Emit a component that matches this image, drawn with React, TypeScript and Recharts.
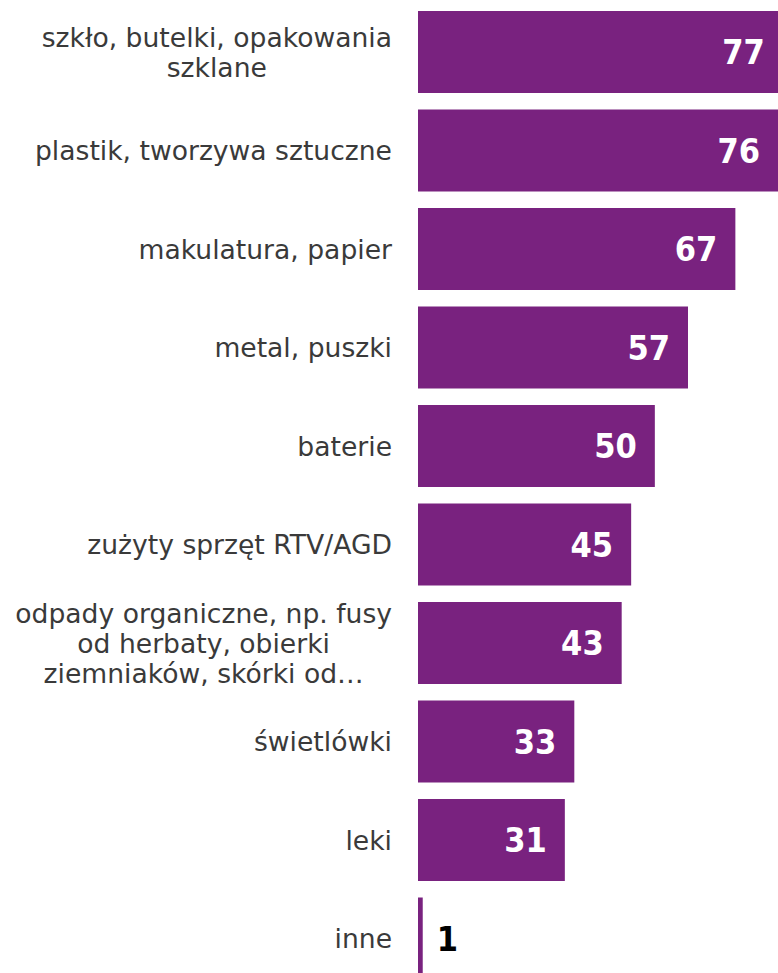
import React from 'react'
import { BarChart, Bar, XAxis, YAxis, LabelList } from 'recharts'

const categories = [
  'szkło, butelki, opakowania\nszklane',
  'plastik, tworzywa sztuczne',
  'makulatura, papier',
  'metal, puszki',
  'baterie',
  'zużyty sprzęt RTV/AGD',
  'odpady organiczne, np. fusy\nod herbaty, obierki\nziemniaków, skórki od…',
  'świetlówki',
  'leki',
  'inne',
]
const values = [77, 76, 67, 57, 50, 45, 43, 33, 31, 1]

const data = categories.map((name, i) => ({ name, value: values[i] }))

const PURPLE = '#79227F'
const FONT = "'DejaVu Sans', Verdana, sans-serif"
const VALUE_FONT = "'DejaVu Sans Condensed', 'DejaVu Sans', sans-serif"
const TICK_SIZE = 26.6

let ctx: CanvasRenderingContext2D | null = null
function measure(text: string) {
  if (!ctx) ctx = document.createElement('canvas').getContext('2d')
  if (!ctx) return text.length * 14
  ctx.font = `${TICK_SIZE}px ${FONT}`
  return ctx.measureText(text).width
}

function CategoryTick(props: any) {
  const { x, y, payload } = props
  const lines: string[] = String(payload.value).split('\n')
  const lineH = 30
  const top = y - ((lines.length - 1) * lineH) / 2
  if (lines.length === 1) {
    return (
      <text x={x} y={y} textAnchor="end" dominantBaseline="central" fontSize={TICK_SIZE} fontFamily={FONT} fill="#3a3a3a">
        {lines[0]}
      </text>
    )
  }
  const w = Math.max(...lines.map(measure))
  const cx = x - w / 2
  return (
    <text textAnchor="middle" fontSize={TICK_SIZE} fontFamily={FONT} fill="#3a3a3a">
      {lines.map((l, i) => (
        <tspan key={i} x={cx} y={top + i * lineH} dominantBaseline="central">
          {l}
        </tspan>
      ))}
    </text>
  )
}

function ValueLabel(props: any) {
  const { x, y, width, height, value } = props
  const cy = y + height / 2
  if (value < 10) {
    return (
      <text x={x + width + 14} y={cy} textAnchor="start" dominantBaseline="central" fontSize={34} fontWeight="bold" fontFamily={VALUE_FONT} fill="#000">
        {value}
      </text>
    )
  }
  return (
    <text x={x + width - 18} y={cy} textAnchor="end" dominantBaseline="central" fontSize={34} fontWeight="bold" fontFamily={VALUE_FONT} fill="#fff">
      {value}
    </text>
  )
}

export default function App() {
  return (
    <div style={{ position: 'absolute', left: 0, top: 0, width: 778, height: 973, overflow: 'hidden', background: '#fff' }}>
      <BarChart
        width={778}
        height={988}
        data={data}
        layout="vertical"
        margin={{ top: 3, right: 0, bottom: 0, left: 0 }}
        barSize={82}
      >
        <XAxis type="number" domain={[0, 76]} allowDataOverflow hide />
        <YAxis
          type="category"
          dataKey="name"
          width={418}
          axisLine={false}
          tickLine={false}
          tickSize={0}
          tickMargin={26}
          interval={0}
          tick={<CategoryTick />}
        />
        <Bar dataKey="value" fill={PURPLE} isAnimationActive={false}>
          <LabelList dataKey="value" content={<ValueLabel />} />
        </Bar>
      </BarChart>
    </div>
  )
}
